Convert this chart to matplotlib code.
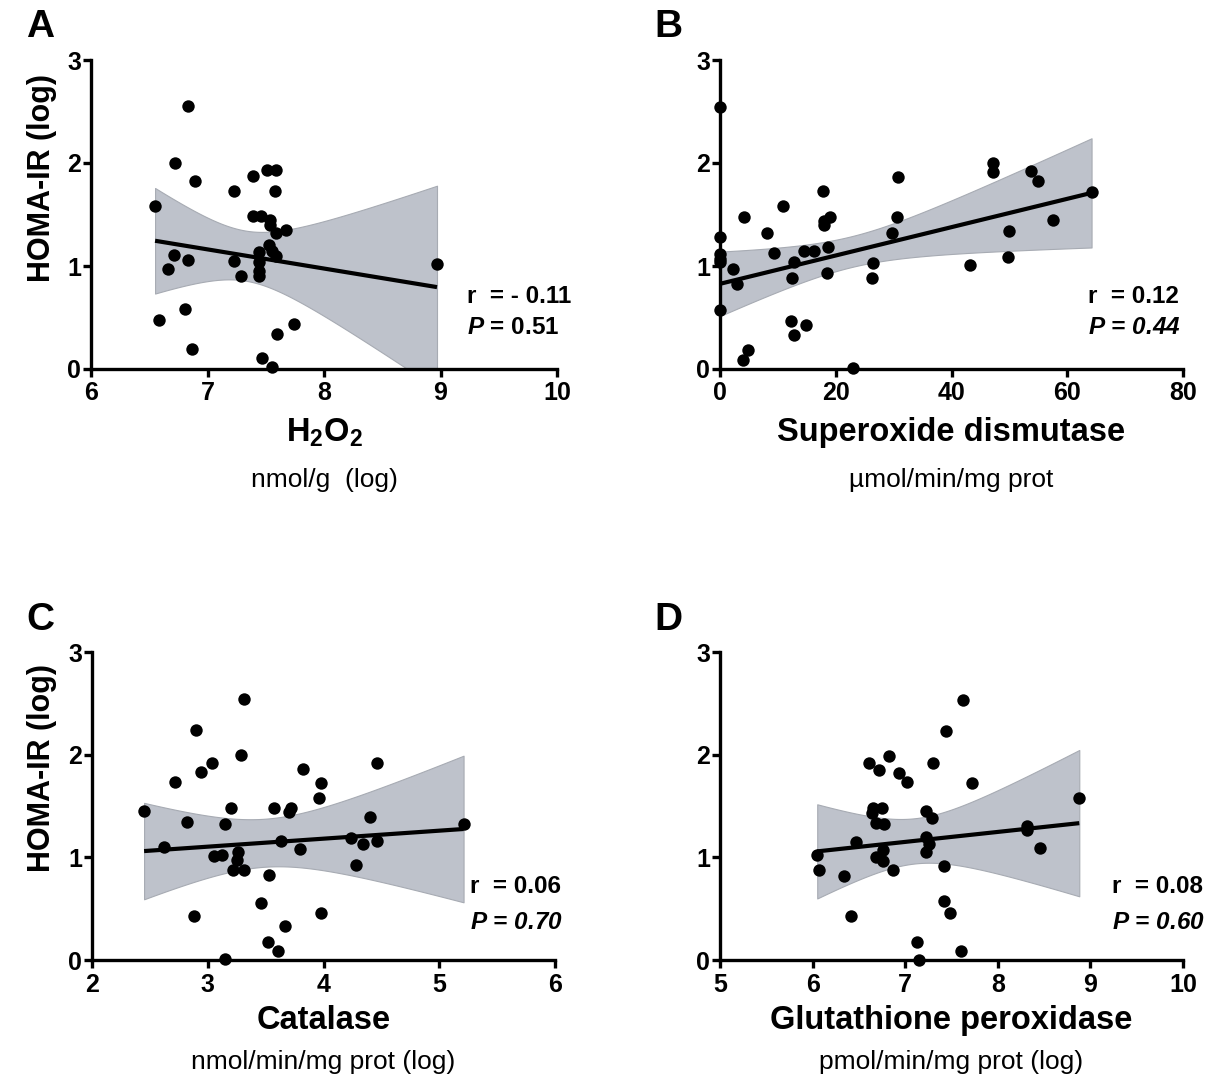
import numpy as np
import matplotlib
matplotlib.use("Agg")
import matplotlib.pyplot as plt

plt.rcParams['font.family'] = ['Liberation Sans', 'DejaVu Sans']
plt.rcParams['mathtext.fontset'] = 'custom'
plt.rcParams['mathtext.rm'] = 'Liberation Sans:bold'
plt.rcParams['mathtext.bf'] = 'Liberation Sans:bold'
plt.rcParams['mathtext.it'] = 'Liberation Sans:bold:italic'

# A: H2O2
h2o2_x = [6.83, 6.72, 6.89, 6.55, 7.23, 7.39, 7.51, 7.59, 7.58, 7.39, 7.46, 7.54, 7.54, 7.59, 7.67,
          7.53, 7.55, 7.44, 7.59, 7.44, 6.71, 6.83, 6.66, 7.23, 7.29, 7.44, 7.44, 8.97, 6.58, 6.81,
          6.87, 7.74, 7.60, 7.47, 7.55]
h2o2_y = [2.55, 2.00, 1.83, 1.58, 1.73, 1.87, 1.93, 1.93, 1.73, 1.49, 1.49, 1.45, 1.40, 1.32, 1.35,
          1.20, 1.15, 1.14, 1.10, 1.04, 1.11, 1.06, 0.97, 1.05, 0.90, 0.95, 0.90, 1.02, 0.48, 0.58,
          0.19, 0.44, 0.34, 0.11, 0.02]

# B: superoxide dismutase
sod_x = [0, 0, 0, 0, 0, 0, 2.2, 2.9, 4.1, 4.0, 4.9, 10.8, 8.1, 9.4, 12.7, 12.5, 12.3, 12.8, 14.9,
         14.5, 16.3, 17.8, 17.9, 18.0, 19.0, 18.7, 18.5, 23.0, 26.4, 26.3, 29.7, 30.5, 30.8, 43.2,
         47.1, 47.1, 49.7, 50.0, 53.7, 54.9, 57.6, 64.2]
sod_y = [2.54, 1.28, 1.12, 1.07, 1.04, 0.57, 0.97, 0.83, 1.48, 0.09, 0.18, 1.58, 1.32, 1.13, 1.04,
         0.88, 0.47, 0.33, 0.43, 1.15, 1.15, 1.73, 1.44, 1.40, 1.48, 1.18, 0.93, 0.01, 1.03, 0.88,
         1.32, 1.48, 1.86, 1.01, 2.00, 1.91, 1.09, 1.34, 1.92, 1.83, 1.45, 1.72]

# C: catalase
cat_x = [3.31, 2.90, 3.29, 3.04, 2.94, 2.72, 3.82, 3.98, 3.96, 4.46, 2.45, 3.20, 3.57, 3.72, 3.70,
         4.40, 2.82, 3.15, 5.21, 2.62, 3.63, 3.80, 4.24, 4.34, 4.46, 4.28, 3.05, 3.12, 3.26, 3.25,
         3.22, 3.31, 3.53, 3.46, 2.88, 3.98, 3.67, 3.52, 3.61, 3.15]
cat_y = [2.54, 2.24, 2.00, 1.92, 1.83, 1.73, 1.86, 1.72, 1.58, 1.92, 1.45, 1.48, 1.48, 1.48, 1.44,
         1.39, 1.34, 1.32, 1.32, 1.10, 1.16, 1.08, 1.19, 1.13, 1.16, 0.93, 1.01, 1.02, 1.05, 0.97,
         0.88, 0.88, 0.83, 0.56, 0.43, 0.46, 0.33, 0.18, 0.09, 0.01]

# D: glutathione peroxidase
gpx_x = [7.62, 7.44, 6.82, 6.61, 6.72, 6.93, 7.02, 7.30, 7.72, 8.88, 6.65, 6.75, 6.64, 7.22, 7.29,
         6.69, 6.77, 6.47, 7.23, 7.26, 7.22, 8.31, 8.32, 8.46, 6.05, 6.07, 6.34, 6.68, 6.76, 6.76,
         6.87, 7.42, 6.42, 7.42, 7.48, 7.13, 7.15, 7.60]
gpx_y = [2.53, 2.23, 1.99, 1.92, 1.85, 1.82, 1.73, 1.92, 1.72, 1.58, 1.48, 1.48, 1.43, 1.45, 1.38,
         1.33, 1.32, 1.15, 1.20, 1.13, 1.05, 1.31, 1.27, 1.09, 1.02, 0.88, 0.82, 1.00, 1.07, 0.96,
         0.88, 0.92, 0.43, 0.57, 0.46, 0.18, 0.00, 0.09]

# regression line (y at first / last x) and 95% CI half-widths
fit_ends = [(1.245, 0.795), (0.827, 1.71), (1.061, 1.276), (1.058, 1.333)]
band_x = [[6.555, 7.39, 8.944], [0, 26.4, 63.5], [2.449, 3.507, 5.21], [6.058, 7.014, 8.856]]
band_half = [[0.51, 0.246, 0.97], [0.313, 0.157, 0.522], [0.47, 0.234, 0.714], [0.456, 0.223, 0.704]]

letters = ['A', 'B', 'C', 'D']
titles = ['H$_2$O$_2$', 'Superoxide dismutase', 'Catalase', 'Glutathione peroxidase']
units = ['nmol/g  (log)', 'µmol/min/mg prot', 'nmol/min/mg prot (log)', 'pmol/min/mg prot (log)']
xlims = [(6, 10), (0, 80), (2, 6), (5, 10)]
xticks = [[6, 7, 8, 9, 10], [0, 20, 40, 60, 80], [2, 3, 4, 5, 6], [5, 6, 7, 8, 9, 10]]
r_text = ['r  = - 0.11', 'r  = 0.12', 'r  = 0.06', 'r  = 0.08']
p_text = ['$P$ = 0.51', '$P$ = 0.44', '$P$ = 0.70', '$P$ = 0.60']
p_italic = [False, True, True, True]
stat_x = [0.807, 0.795, 0.816, 0.847]

data = [(h2o2_x, h2o2_y), (sod_x, sod_y), (cat_x, cat_y), (gpx_x, gpx_y)]

W, H = 1222, 1080
fig = plt.figure(figsize=(W / 100, H / 100), dpi=100)
boxes = [(91, 60, 466, 309), (720, 60, 463, 309), (92, 652, 463, 308), (720, 652, 463, 308)]

band_col = '#bec2cb'

for i, (x, y) in enumerate(data):
    l, t, w, h = boxes[i]
    ax = fig.add_axes([l / W, 1 - (t + h) / H, w / W, h / H])
    x = np.array(x)
    y = np.array(y)

    xs = np.linspace(x.min(), x.max(), 200)
    fit = np.interp(xs, [x.min(), x.max()], fit_ends[i])
    coef = np.polyfit(band_x[i], np.array(band_half[i]) ** 2, 2)
    half = np.sqrt(np.clip(np.polyval(coef, xs), 0, None))
    ax.fill_between(xs, fit - half, fit + half, color=band_col,
                    edgecolor='#a7abb3', linewidth=0.8, zorder=1)
    ax.plot(xs, fit, color='black', lw=3, zorder=2, solid_capstyle='butt')
    ax.scatter(x, y, s=80, color='black', zorder=3, clip_on=False, linewidths=0)

    ax.set_xlim(*xlims[i])
    ax.set_ylim(0, 3)
    ax.set_xticks(xticks[i])
    ax.set_yticks([0, 1, 2, 3])
    for sp in ['top', 'right']:
        ax.spines[sp].set_visible(False)
    for sp in ['left', 'bottom']:
        ax.spines[sp].set_linewidth(2.4)
    ax.tick_params(width=2.4, length=6, labelsize=18, pad=1)
    ax.tick_params(axis='x', pad=3)
    for lab in ax.get_xticklabels() + ax.get_yticklabels():
        lab.set_fontweight('bold')
    ax.set_facecolor('none')

    top = i < 2
    ax.text(0.5, -0.205 if top else -0.198, titles[i], transform=ax.transAxes,
            ha='center', va='center', fontsize=23.5, fontweight='bold')
    ax.text(0.5, -0.36 if top else -0.33, units[i], transform=ax.transAxes,
            ha='center', va='center', fontsize=19)

    ax.text(stat_x[i], 0.236 if top else 0.24, r_text[i], transform=ax.transAxes,
            ha='left', va='center', fontsize=17.5, fontweight='bold')
    ax.text(stat_x[i], 0.133 if top else 0.123, p_text[i], transform=ax.transAxes,
            ha='left', va='center', fontsize=17.5, fontweight='bold',
            fontstyle='italic' if p_italic[i] else 'normal')

    lx = 40 if i % 2 == 0 else 668
    ly = 27 if top else 620
    fig.text(lx / W, 1 - ly / H, letters[i], ha='center', va='center',
             fontsize=28, fontweight='bold')

fig.text(42 / W, 1 - 178 / H, 'HOMA-IR (log)', rotation=90, ha='center', va='center',
         fontsize=22, fontweight='bold')
fig.text(42 / W, 1 - 768 / H, 'HOMA-IR (log)', rotation=90, ha='center', va='center',
         fontsize=22, fontweight='bold')

fig.savefig('out.png', dpi=100)
